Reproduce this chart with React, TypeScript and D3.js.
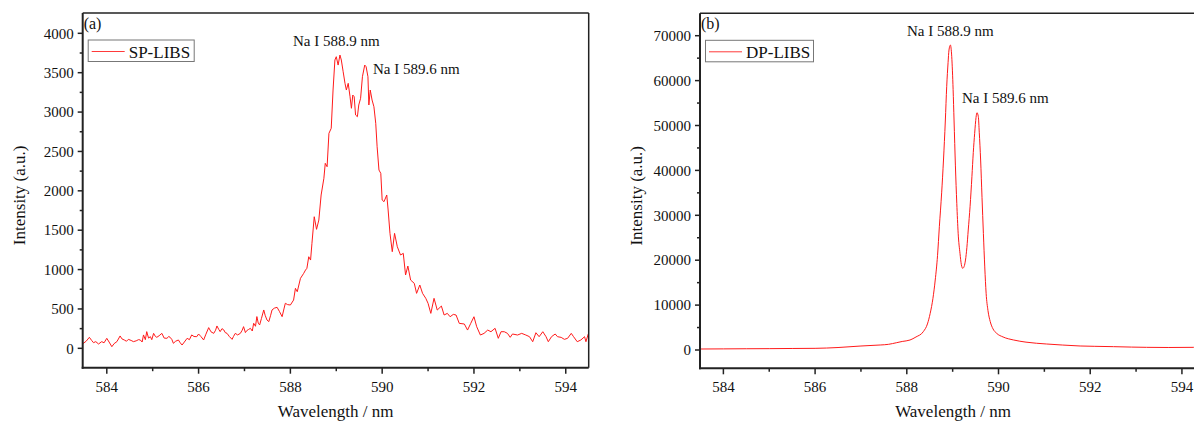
import React from "react";
import * as d3 from "d3";

// ---------- data ----------
const spWavelength = [
  583.48, 583.55, 583.62, 583.67, 583.71, 583.76, 583.82, 583.89, 583.94, 584.0,
  584.05, 584.11, 584.16, 584.22, 584.29, 584.33, 584.38, 584.43, 584.47, 584.53,
  584.58, 584.64, 584.69, 584.73, 584.77, 584.8, 584.84, 584.87, 584.91, 584.95,
  584.98, 585.02, 585.06, 585.09, 585.14, 585.2, 585.25, 585.31, 585.35, 585.38,
  585.42, 585.45, 585.5, 585.56, 585.6, 585.64, 585.69, 585.75, 585.8, 585.85,
  585.9, 585.96, 586.0, 586.05, 586.11, 586.16, 586.22, 586.27, 586.33, 586.37,
  586.4, 586.44, 586.47, 586.51, 586.55, 586.58, 586.62, 586.67, 586.73, 586.76,
  586.8, 586.85, 586.91, 586.95, 586.98, 587.02, 587.05, 587.09, 587.13, 587.17,
  587.2, 587.24, 587.27, 587.3, 587.33, 587.37, 587.42, 587.45, 587.49, 587.53,
  587.57, 587.6, 587.65, 587.71, 587.76, 587.82, 587.86, 587.89, 587.94, 588.0,
  588.07, 588.11, 588.15, 588.22, 588.29, 588.33, 588.36, 588.4, 588.44, 588.47,
  588.52, 588.57, 588.62, 588.67, 588.73, 588.76, 588.8, 588.84, 588.89, 588.93,
  588.97, 589.0, 589.04, 589.08, 589.11, 589.15, 589.19, 589.22, 589.26, 589.3,
  589.33, 589.36, 589.39, 589.42, 589.46, 589.49, 589.53, 589.57, 589.62, 589.65,
  589.69, 589.71, 589.74, 589.78, 589.82, 589.86, 589.89, 589.93, 589.97, 590.0,
  590.04, 590.1, 590.13, 590.17, 590.22, 590.27, 590.33, 590.4, 590.46, 590.51,
  590.56, 590.62, 590.7, 590.75, 590.82, 590.88, 590.95, 591.0, 591.06, 591.13,
  591.2, 591.29, 591.35, 591.42, 591.48, 591.55, 591.61, 591.68, 591.79, 591.86,
  591.93, 592.0, 592.06, 592.14, 592.22, 592.3, 592.37, 592.46, 592.53, 592.59,
  592.66, 592.73, 592.79, 592.84, 592.95, 593.04, 593.13, 593.21, 593.28, 593.35,
  593.42, 593.5, 593.57, 593.62, 593.69, 593.77, 593.82, 593.9, 593.97, 594.04,
  594.12, 594.17, 594.25, 594.33, 594.41, 594.44, 594.49, 594.54,
];
const spIntensity = [
  60, 90, 140, 100, 72, 85, 55, 85, 70, 127,
  80, 21, 60, 85, 157, 120, 106, 90, 114, 100,
  85, 95, 110, 106, 80, 170, 110, 212, 130, 148,
  110, 190, 150, 140, 160, 190, 130, 127, 150, 140,
  110, 64, 90, 106, 70, 42, 80, 127, 110, 170,
  150, 148, 182, 150, 106, 180, 263, 210, 190, 230,
  284, 240, 212, 250, 233, 200, 190, 150, 114, 150,
  190, 170, 190, 230, 275, 200, 225, 240, 254, 220,
  318, 280, 403, 320, 297, 380, 487, 420, 360, 339,
  420, 487, 510, 521, 470, 402, 500, 572, 555, 550,
  613, 762, 719, 889, 952, 994, 1016, 1163, 1121, 1333,
  1671, 1511, 1629, 1947, 2159, 2349, 2306, 2730, 2794, 3280,
  3661, 3703, 3597, 3724, 3661, 3512, 3365, 3280, 3365, 3195,
  3048, 3216, 3195, 2963, 2941, 3090, 3175, 3449, 3597, 3576,
  3449, 3090, 3280, 3153, 3068, 2857, 2560, 2264, 2222, 1883,
  1862, 1947, 1756, 1460, 1227, 1460, 1290, 1185, 1206, 931,
  1045, 867, 825, 698, 804, 698, 635, 571, 444, 635,
  486, 537, 423, 444, 401, 431, 423, 317, 309, 232,
  317, 401, 274, 169, 190, 232, 211, 254, 127, 211,
  211, 190, 140, 182, 169, 190, 169, 148, 84, 198,
  148, 211, 148, 84, 148, 182, 148, 139, 114, 127,
  190, 148, 84, 106, 148, 84, 182, 148,
];

const dpWavelength = [
  583.49, 584.0, 584.5, 585.0, 585.5, 586.0, 586.5, 587.0, 587.42, 587.6,
  587.78, 587.9, 588.07, 588.2, 588.36, 588.45, 588.51, 588.57, 588.62, 588.67,
  588.71, 588.76, 588.8, 588.84, 588.87, 588.9, 588.92, 588.95, 588.98, 589.01,
  589.03, 589.06, 589.09, 589.12, 589.16, 589.19, 589.22, 589.25, 589.28, 589.31,
  589.34, 589.38, 589.42, 589.45, 589.48, 589.51, 589.53, 589.56, 589.58, 589.61,
  589.64, 589.67, 589.7, 589.73, 589.77, 589.82, 589.88, 589.96, 590.1, 590.33,
  590.6, 591.05, 591.4, 591.78, 592.1, 592.51, 592.9, 593.23, 593.7, 594.25, 594.5,
];
const dpIntensity = [
  220, 250, 280, 300, 340, 370, 550, 890, 1114, 1260,
  1633, 1900, 2227, 2900, 4083, 5800, 8165, 11500, 15590, 21000,
  27460, 35000, 42310, 51000, 58640, 64000, 66810, 67920, 65320, 58000,
  51220, 41000, 32670, 26000, 21530, 19000, 18190, 18600, 20040, 22800,
  26720, 32000, 38600, 44000, 48260, 51800, 52850, 51960, 48500, 42310,
  34000, 25980, 18500, 12620, 8800, 6310, 4700, 3710, 2900, 2227,
  1750, 1336, 1100, 891, 820, 742, 650, 594, 560, 594, 560,
];

const xMajorTicks = [584, 586, 588, 590, 592, 594];
const xMinorTicks = [585, 587, 589, 591, 593];
const spYMajor = [0, 500, 1000, 1500, 2000, 2500, 3000, 3500, 4000];
const spYMinor = [250, 750, 1250, 1750, 2250, 2750, 3250, 3750];
const dpYMajor = [0, 10000, 20000, 30000, 40000, 50000, 60000, 70000];
const dpYMinor = [5000, 15000, 25000, 35000, 45000, 55000, 65000];

const FONT = "'Liberation Serif', 'Times New Roman', serif";
const AX = "#222";

type Ann = { text: string; x: number; y: number };

type PanelProps = {
  id: string;
  left: number;
  right: number;
  top: number;
  bottom: number;
  xDomain: [number, number];
  yDomain: [number, number];
  wl: number[];
  val: number[];
  yMajor: number[];
  yMinor: number[];
  smooth: boolean;
  tag: string;
  legend: string;
  legendW: number;
  anns: Ann[];
};

function Panel(p: PanelProps) {
  const x = d3.scaleLinear().domain(p.xDomain).range([p.left, p.right]);
  const y = d3.scaleLinear().domain(p.yDomain).range([p.bottom, p.top]);
  const pts = p.wl.map((w, i) => [w, p.val[i]] as [number, number]);
  const line = d3
    .line<[number, number]>()
    .x((d) => x(d[0]))
    .y((d) => y(d[1]))
    .curve(p.smooth ? d3.curveMonotoneX : d3.curveLinear);
  const cx = (p.left + p.right) / 2;
  const cy = (p.top + p.bottom) / 2 + 5;
  return (
    <g>
      <defs>
        <clipPath id={"clip-" + p.id}>
          <rect x={p.left} y={p.top} width={p.right - p.left} height={p.bottom - p.top} />
        </clipPath>
      </defs>
      <path
        d={line(pts) || ""}
        fill="none"
        stroke="#ff1a1a"
        strokeWidth={1}
        clipPath={`url(#clip-${p.id})`}
      />
      {/* frame */}
      <line x1={p.left} x2={p.right} y1={p.top} y2={p.top} stroke={AX} strokeWidth={1.5} />
      <line x1={p.right} x2={p.right} y1={p.top} y2={p.bottom} stroke={AX} strokeWidth={1.5} />
      <line x1={p.left} x2={p.left} y1={p.top} y2={p.bottom + 1} stroke={AX} strokeWidth={2} />
      <line x1={p.left - 1} x2={p.right} y1={p.bottom} y2={p.bottom} stroke={AX} strokeWidth={2} />
      {/* x ticks */}
      {xMajorTicks.map((t) => (
        <g key={"xm" + t}>
          <line x1={x(t)} x2={x(t)} y1={p.bottom} y2={p.bottom + 6} stroke={AX} strokeWidth={1.5} />
          <text x={x(t)} y={p.bottom + 24} textAnchor="middle" fontSize={15} fontFamily={FONT} fill="#111">
            {t}
          </text>
        </g>
      ))}
      {xMinorTicks.map((t) => (
        <line key={"xn" + t} x1={x(t)} x2={x(t)} y1={p.bottom} y2={p.bottom + 3.5} stroke={AX} strokeWidth={1.5} />
      ))}
      {/* y ticks */}
      {p.yMajor.map((t) => (
        <g key={"ym" + t}>
          <line x1={p.left - 5} x2={p.left} y1={y(t)} y2={y(t)} stroke={AX} strokeWidth={1.5} />
          <text
            x={p.left - 9}
            y={y(t)}
            dy="0.35em"
            textAnchor="end"
            fontSize={15}
            fontFamily={FONT}
            fill="#111"
          >
            {t}
          </text>
        </g>
      ))}
      {p.yMinor.map((t) => (
        <line key={"yn" + t} x1={p.left - 3} x2={p.left} y1={y(t)} y2={y(t)} stroke={AX} strokeWidth={1.5} />
      ))}
      {/* axis titles */}
      <text x={cx} y={417} textAnchor="middle" fontSize={17} fontFamily={FONT} fill="#111">
        Wavelength / nm
      </text>
      <text
        transform={`translate(${p.left - 58},${cy}) rotate(-90)`}
        textAnchor="middle"
        fontSize={17}
        fontFamily={FONT}
        fill="#111"
      >
        Intensity (a.u.)
      </text>
      {/* tag */}
      <text x={p.left + 1} y={p.top + 16} fontSize={16} fontFamily={FONT} fill="#111">
        {p.tag}
      </text>
      {/* legend */}
      <rect
        x={p.left + 5.5}
        y={p.top + 27}
        width={p.legendW}
        height={21.5}
        fill="white"
        stroke="#777"
        strokeWidth={1}
      />
      <line
        x1={p.left + 9}
        x2={p.left + 42}
        y1={p.top + 38.5}
        y2={p.top + 38.5}
        stroke="#ff3a3a"
        strokeWidth={1}
      />
      <text x={p.left + 46} y={p.top + 44.5} fontSize={17} fontFamily={FONT} fill="#111">
        {p.legend}
      </text>
      {/* annotations */}
      {p.anns.map((a) => (
        <text key={a.text} x={a.x} y={a.y} fontSize={15} fontFamily={FONT} fill="#111">
          {a.text}
        </text>
      ))}
    </g>
  );
}

export default function App() {
  return (
    <svg
      width={1194}
      height={422}
      style={{ position: "absolute", left: 0, top: 0, background: "white" }}
    >
      <rect x={0} y={0} width={1194} height={422} fill="white" />
      <Panel
        id="a"
        left={82.7}
        right={588.7}
        top={13}
        bottom={367.7}
        xDomain={[583.475, 594.5]}
        yDomain={[-246, 4258]}
        wl={spWavelength}
        val={spIntensity}
        yMajor={spYMajor}
        yMinor={spYMinor}
        smooth={false}
        tag="(a)"
        legend="SP-LIBS"
        legendW={106}
        anns={[
          { text: "Na I 588.9 nm", x: 293, y: 46 },
          { text: "Na I 589.6 nm", x: 373, y: 74 },
        ]}
      />
      <Panel
        id="b"
        left={700}
        right={1206}
        top={13.3}
        bottom={368.3}
        xDomain={[583.49, 594.525]}
        yDomain={[-4076, 74990]}
        wl={dpWavelength}
        val={dpIntensity}
        yMajor={dpYMajor}
        yMinor={dpYMinor}
        smooth={true}
        tag="(b)"
        legend="DP-LIBS"
        legendW={108}
        anns={[
          { text: "Na I 588.9 nm", x: 907, y: 36 },
          { text: "Na I 589.6 nm", x: 962, y: 103 },
        ]}
      />
    </svg>
  );
}
